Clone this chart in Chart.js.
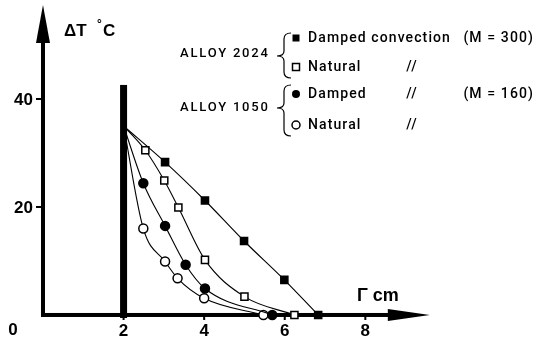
<!DOCTYPE html>
<html>
<head>
<meta charset="utf-8">
<script src="https://cdn.jsdelivr.net/npm/chart.js@4.4.0/dist/chart.umd.min.js"></script>
<style>
  body { margin: 0; background: #fff; }
  canvas { display: block; }
</style>
</head>
<body>
<canvas id="grafico" width="541" height="345"></canvas>
<script>
// every curve starts at the heated wall
const startR = 2;
const startT = 35;

// ALLOY 2024
const dampedConvR = [3.03, 4.02, 4.99, 5.99, 6.83];
const dampedConvT = [28.3, 21.2, 13.7, 6.5, 0];
const natural2024R = [2.54, 3.01, 3.36, 4.02, 5.0, 6.24];
const natural2024T = [30.5, 24.9, 19.9, 10.2, 3.4, 0];

// ALLOY 1050
const damped1050R = [2.49, 3.03, 3.54, 4.02, 5.69];
const damped1050T = [24.4, 16.5, 9.3, 4.9, 0];
const natural1050R = [2.49, 3.03, 3.34, 4.0, 5.47];
const natural1050T = [16.0, 9.9, 6.8, 3.1, 0];

// wall at r = 2
const wallR = 2;
const wallTop = 42.6;

const xTicks = [2, 4, 6, 8];
const yTicks = [20, 40];
const xTitle = 'Γ cm';

const legendGroups = ['ALLOY 2024', 'ALLOY 1050'];
const legendLabels = ['Damped convection', 'Natural', 'Damped', 'Natural'];
const legendDitto = ['', '//', '//', '//'];
const legendM = ['(M = 300)', '', '(M = 160)', ''];

const toPoints = (r, t) => [{ x: startR, y: startT }].concat(r.map((v, i) => ({ x: v, y: t[i] })));

const serie = (r, t, style, fill) => ({
    data: toPoints(r, t),
    showLine: true,
    borderColor: '#000',
    borderWidth: 1.1,
    cubicInterpolationMode: 'monotone',
    pointStyle: style,
    pointRadius: (c) => c.dataIndex === 0 ? 0 : (style === 'rect' ? 5 : 4.5),
    pointBackgroundColor: fill,
    pointBorderColor: '#000',
    pointBorderWidth: 1.5
});

const ejes = {
    id: 'ejes',
    beforeDatasetsDraw(chart) {
        const { ctx, scales: { x, y } } = chart;
        const x0 = x.getPixelForValue(0);
        const y0 = y.getPixelForValue(0);
        const yEnd = y.getPixelForValue(57.4);
        const xEnd = x.getPixelForValue(9.6);
        ctx.save();
        ctx.fillStyle = '#000';

        // vertical axis + arrow
        ctx.fillRect(x0 - 2, yEnd + 30, 4, y0 - yEnd - 28);
        ctx.beginPath();
        ctx.moveTo(x0, yEnd);
        ctx.lineTo(x0 - 7, yEnd + 38);
        ctx.lineTo(x0 + 7, yEnd + 38);
        ctx.closePath();
        ctx.fill();

        // horizontal axis + arrow
        ctx.fillRect(x0 - 2, y0 - 2, xEnd - x0 - 30, 4);
        ctx.beginPath();
        ctx.moveTo(xEnd, y0);
        ctx.lineTo(xEnd - 42, y0 - 6);
        ctx.lineTo(xEnd - 42, y0 + 6);
        ctx.closePath();
        ctx.fill();

        // the wall
        const wx = x.getPixelForValue(wallR);
        ctx.fillRect(wx - 3.5, y.getPixelForValue(wallTop), 7, y0 - y.getPixelForValue(wallTop) + 3);

        // tick marks
        yTicks.forEach((v) => {
            ctx.fillRect(x0 - 7, y.getPixelForValue(v) - 1, 6, 2);
        });
        xTicks.forEach((v) => {
            ctx.fillRect(x.getPixelForValue(v) - 1, y0, 2, 5);
        });
        ctx.restore();
    },
    afterDraw(chart) {
        const { ctx, scales: { x, y } } = chart;
        const x0 = x.getPixelForValue(0);
        const y0 = y.getPixelForValue(0);
        ctx.save();
        ctx.fillStyle = '#000';
        ctx.strokeStyle = '#000';

        // tick labels
        ctx.font = 'bold 17px "Liberation Sans", Arial, sans-serif';
        ctx.textBaseline = 'middle';
        ctx.textAlign = 'right';
        yTicks.forEach((v) => ctx.fillText(String(v), x0 - 10, y.getPixelForValue(v) + 1));
        ctx.textAlign = 'center';
        ctx.fillText('0', x0 - 30, y0 + 15);
        xTicks.forEach((v) => ctx.fillText(String(v), x.getPixelForValue(v), y0 + 16));

        // axis titles
        ctx.textAlign = 'left';
        ctx.font = 'bold 17px "Liberation Sans", Arial, sans-serif';
        ctx.fillText('ΔT', x0 + 21, 31);
        ctx.fillText('C', x0 + 60, 31);
        ctx.font = 'bold 12px "Liberation Sans", Arial, sans-serif';
        ctx.fillText('°', x0 + 54, 25);
        ctx.font = 'bold 18px "Liberation Sans", Arial, sans-serif';
        ctx.fillText(xTitle, 357, y0 - 19);

        // legend
        const rowsY = [38, 67, 94, 125];
        const groupY = [54, 108];
        const braces = [[33, 56, 78], [85, 108, 136]];
        ctx.font = '500 13px Roboto, "DejaVu Sans", sans-serif';
        ctx.letterSpacing = '1.8px';
        legendGroups.forEach((g, i) => ctx.fillText(g, 180, groupY[i]));

        ctx.lineWidth = 1.2;
        braces.forEach(([top, mid, bot]) => {
            ctx.beginPath();
            ctx.moveTo(291, top);
            ctx.quadraticCurveTo(284, top, 284, top + 6);
            ctx.lineTo(284, mid - 5);
            ctx.quadraticCurveTo(284, mid, 277, mid);
            ctx.quadraticCurveTo(284, mid, 284, mid + 5);
            ctx.lineTo(284, bot - 6);
            ctx.quadraticCurveTo(284, bot, 291, bot);
            ctx.stroke();
        });

        // legend symbols
        ctx.lineWidth = 1.5;
        ctx.fillRect(292.5, rowsY[0] - 3.5, 7, 7);
        ctx.fillStyle = '#fff';
        ctx.fillRect(292.5, rowsY[1] - 3.5, 7, 7);
        ctx.strokeRect(292.5, rowsY[1] - 3.5, 7, 7);
        ctx.fillStyle = '#000';
        ctx.beginPath();
        ctx.arc(296, rowsY[2], 4, 0, Math.PI * 2);
        ctx.fill();
        ctx.beginPath();
        ctx.arc(296, rowsY[3], 4, 0, Math.PI * 2);
        ctx.stroke();

        ctx.font = '500 14px Roboto, "DejaVu Sans", sans-serif';
        ctx.letterSpacing = '1.1px';
        legendLabels.forEach((t, i) => {
            ctx.textAlign = 'left';
            ctx.fillText(t, 308, rowsY[i]);
            ctx.textAlign = 'center';
            if (legendDitto[i]) ctx.fillText(legendDitto[i], 412, rowsY[i]);
            ctx.textAlign = 'right';
            if (legendM[i]) ctx.fillText(legendM[i], 534, rowsY[i]);
        });
        ctx.restore();
    }
};

new Chart(document.getElementById('grafico'), {
    type: 'scatter',
    data: {
        datasets: [
            serie(dampedConvR, dampedConvT, 'rect', '#000'),
            serie(natural2024R, natural2024T, 'rect', '#fff'),
            serie(damped1050R, damped1050T, 'circle', '#000'),
            serie(natural1050R, natural1050T, 'circle', '#fff')
        ]
    },
    options: {
        responsive: false,
        animation: false,
        layout: { padding: 0, autoPadding: false },
        scales: {
            x: { type: 'linear', min: -1.067, max: 12.36, display: false },
            y: { type: 'linear', min: -5.56, max: 58.33, display: false }
        },
        plugins: {
            legend: { display: false },
            tooltip: { enabled: false }
        }
    },
    plugins: [ejes]
});
</script>
</body>
</html>
